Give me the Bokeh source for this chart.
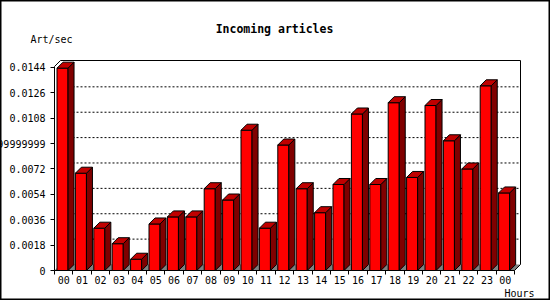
from bokeh.plotting import figure
from bokeh.models import Range1d, FixedTicker, LinearAxis
from bokeh.core.properties import value
from bokeh.embed import file_html
from bokeh.resources import INLINE

# ---------------- data ----------------
HOURS = ["00", "01", "02", "03", "04", "05", "06", "07", "08", "09", "10", "11",
         "12", "13", "14", "15", "16", "17", "18", "19", "20", "21", "22", "23", "00"]
RATE = [0.01435, 0.0069, 0.0030, 0.0019, 0.0008, 0.0033, 0.0038, 0.0038, 0.0058,
        0.0050, 0.00995, 0.0030, 0.0089, 0.0058, 0.0041, 0.0061, 0.0111, 0.0061,
        0.0119, 0.0066, 0.0117, 0.0092, 0.0072, 0.0131, 0.0055]
Y_TICKS = [0, 0.0018, 0.0036, 0.0054, 0.0072, 0.009, 0.0108, 0.0126, 0.0144]
Y_TICK_LABELS = ["0", "0.0018", "0.0036", "0.0054", "0.0072", "0.00899999999999999",
                 "0.0108", "0.0126", "0.0144"]
TITLE = "Incoming articles"
Y_LABEL = "Art/sec"
X_LABEL = "Hours"

# ---------------- layout / style ----------------
W, H = 550, 300
X0_PX, Y0_PX = 54, 270          # canvas pixel of the data origin
PX_PER_CAT = 18.4
PX_PER_UNIT = 14100.0
BACK_TOP_PX = 60
DEPTH_PX = 6
BAR_OFF, BAR_W = 0.136, 0.6
FONT = "DejaVu Sans Mono"
FRONT, SIDE, TOP, FLOOR = "#ff0000", "#800000", "#c00000", "#808080"


def px2x(px):
    return (px - X0_PX) / PX_PER_CAT


def px2y(py):
    return (Y0_PX - py) / PX_PER_UNIT


DX = DEPTH_PX / PX_PER_CAT
DY = DEPTH_PX / PX_PER_UNIT
N = len(HOURS)
Y_END = px2y(BACK_TOP_PX)

p = figure(width=W, height=H, output_backend="svg", toolbar_location=None,
           x_range=Range1d(px2x(0), px2x(W)),
           y_range=Range1d(px2y(H), px2y(0)),
           x_axis_type=None, y_axis_type=None,
           min_border=0)
p.outline_line_color = "black"
p.outline_line_width = 2
p.background_fill_color = "white"
p.border_fill_color = "white"

# axes (drawn at the data origin)
yaxis = LinearAxis(fixed_location=0, ticker=FixedTicker(ticks=Y_TICKS))
yaxis.major_label_overrides = {t: lab for t, lab in zip(Y_TICKS, Y_TICK_LABELS)}
yaxis.axis_line_color = None
yaxis.major_tick_out = 4
yaxis.major_tick_in = 0
yaxis.major_tick_line_color = "black"
yaxis.minor_tick_line_color = None
yaxis.major_label_standoff = 5
yaxis.major_label_text_font = FONT
yaxis.major_label_text_font_size = "10px"
yaxis.major_label_text_color = "black"
p.add_layout(yaxis, "left")

centers = [i + 0.5 for i in range(N)]
bounds = [float(i) for i in range(N + 1)]
xaxis = LinearAxis(fixed_location=0, ticker=FixedTicker(ticks=centers, minor_ticks=bounds))
xaxis.major_label_overrides = {c: h for c, h in zip(centers, HOURS)}
xaxis.axis_line_color = None
xaxis.major_tick_line_color = None
xaxis.major_tick_out = 0
xaxis.major_tick_in = 0
xaxis.minor_tick_out = 4
xaxis.minor_tick_in = 0
xaxis.minor_tick_line_color = "black"
xaxis.major_label_standoff = 1
xaxis.major_label_text_font = FONT
xaxis.major_label_text_font_size = "10px"
xaxis.major_label_text_color = "black"
p.add_layout(xaxis, "below")

# floor
p.patch([0, DX, N + DX, N], [0, DY, DY, 0], fill_color=FLOOR, line_color=None)

# back-plane dotted grid
grid_y = [t + DY for t in Y_TICKS[1:-1]]
p.segment(x0=[DX] * len(grid_y), x1=[N + DX] * len(grid_y), y0=grid_y, y1=grid_y,
          line_color="black", line_width=1, line_dash="2 2")

# 3-D frame outline
p.line([0, 0, DX, N + DX, N + DX, N, 0],
       [0, Y_END - DY, Y_END, Y_END, DY, 0, 0],
       line_color="black", line_width=1)

# bars
lefts = [i + BAR_OFF for i in range(N)]
rights = [l + BAR_W for l in lefts]
p.quad(left=lefts, right=rights, bottom=[0] * N, top=RATE,
       fill_color=FRONT, line_color="black", line_width=1)
p.patches(xs=[[r, r + DX, r + DX, r] for r in rights],
          ys=[[0, DY, v + DY, v] for v in RATE],
          fill_color=SIDE, line_color="black", line_width=1)
p.patches(xs=[[l, l + DX, r + DX, r] for l, r in zip(lefts, rights)],
          ys=[[v, v + DY, v + DY, v] for v in RATE],
          fill_color=TOP, line_color="black", line_width=1)

# texts
p.text(x=[px2x(274)], y=[px2y(28)], text=[TITLE], text_align="center",
       text_baseline="middle", text_font=value(FONT), text_font_size=value("11.5px"),
       text_font_style="bold", text_color="black")
p.text(x=[px2x(30)], y=[px2y(39)], text=[Y_LABEL], text_align="left",
       text_baseline="middle", text_font=value(FONT), text_font_size=value("10px"),
       text_color="black")
p.text(x=[px2x(534)], y=[px2y(293)], text=[X_LABEL], text_align="right",
       text_baseline="middle", text_font=value(FONT), text_font_size=value("10px"),
       text_color="black")

open("out.html", "w").write(file_html(p, INLINE))
